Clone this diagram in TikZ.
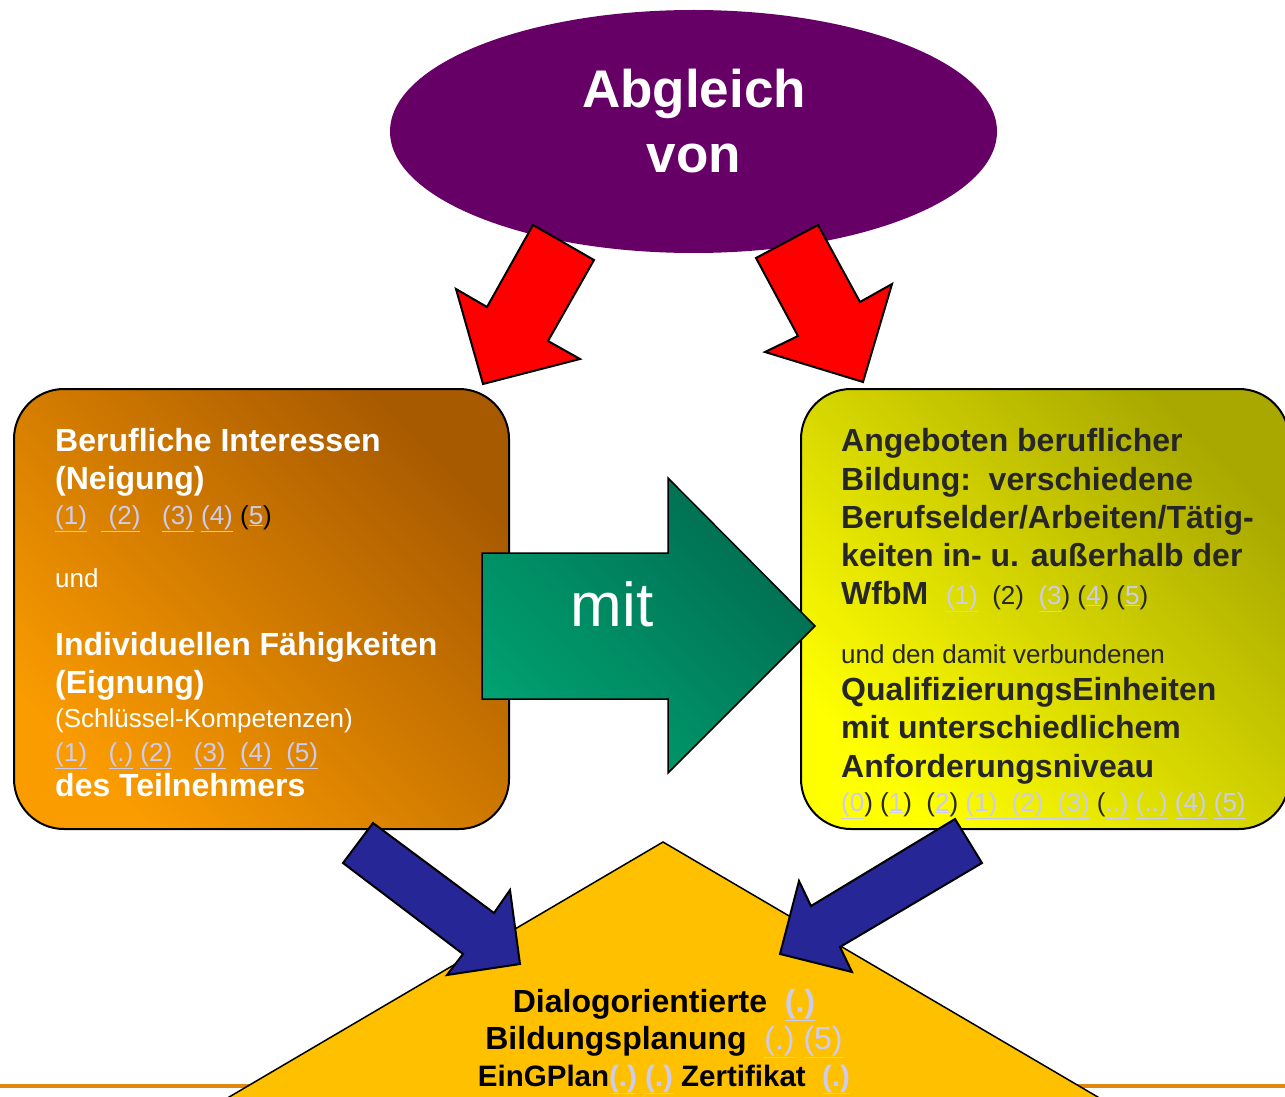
\documentclass[tikz,border=0pt]{standalone}
\usepackage{fontspec}
\setmainfont{Liberation Sans}
\usepackage{xcolor}
\usepackage{tikz}
\usetikzlibrary{shapes.geometric}
\definecolor{abgleichviolett}{RGB}{102,0,102}
\definecolor{pfeilrot}{RGB}{255,0,0}
\definecolor{pfeilblau}{RGB}{38,38,150}
\definecolor{gruenhell}{RGB}{0,160,112}
\definecolor{gruendunkel}{RGB}{0,108,80}
\definecolor{orangehell}{RGB}{250,155,0}
\definecolor{orangedunkel}{RGB}{168,90,0}
\definecolor{gelbhell}{RGB}{255,255,0}
\definecolor{gelbdunkel}{RGB}{168,168,0}
\definecolor{planamber}{RGB}{255,192,0}
\definecolor{linienorange}{RGB}{224,136,16}
\definecolor{linkfarbe}{RGB}{204,204,240}
\definecolor{textgrau}{RGB}{38,38,38}
\tikzstyle{kasten}=[draw=black,line width=2pt,rounded corners=50pt,inner sep=0pt,anchor=north west]
\tikzstyle{orangeverlauf}=[top color=orangedunkel,bottom color=orangehell,shading angle=-45]
\tikzstyle{gelbverlauf}=[top color=gelbdunkel,bottom color=gelbhell,shading angle=-45]
\tikzstyle{gruenverlauf}=[top color=gruendunkel,bottom color=gruenhell,shading angle=-45]
\tikzstyle{rotpfeil}=[draw=black,line width=2pt,fill=pfeilrot]
\tikzstyle{blaupfeil}=[draw=black,line width=2pt,fill=pfeilblau]
\tikzstyle{zeile}=[anchor=base west,inner sep=0pt]
\tikzstyle{weisszeile}=[zeile,text=white]
\tikzstyle{grauzeile}=[zeile,text=textgrau]
\tikzstyle{mittig}=[anchor=base,inner sep=0pt]
\newcommand\gross{\fontsize{32}{38}\selectfont\bfseries}
\newcommand\klein{\fontsize{26}{30}\selectfont}
\newcommand\verweis[1]{{\color{linkfarbe}\underline{#1}}}

\begin{document}
\begin{tikzpicture}[x=1pt,y=-1pt]
	\useasboundingbox (0,0) rectangle (1285,1097);
	\clip (0,0) rectangle (1285,1097);
	\draw[linienorange,line width=4pt] (0,1086) -- (1285,1086);
	\draw[fill=planamber,line width=1.5pt] (663,842) -- (1137,1120) -- (190,1120) -- cycle;
	\node[kasten,orangeverlauf,minimum width=495pt,minimum height=440pt] (neigung) at (13,388) {};
	\node[kasten,gelbverlauf,minimum width=488pt,minimum height=440pt] (angebot) at (800,388) {};
	\node[ellipse,fill=abgleichviolett,minimum width=607pt,minimum height=243pt,inner sep=0pt] (oval) at (693.5,131.5) {};
	\draw[rotpfeil] (533,225) -- (594,260) -- (548,341) -- (580,359) -- (483,384) -- (456,289) -- (487,307) -- cycle;
	\draw[rotpfeil] (756,258) -- (818,225) -- (860,302) -- (892,284) -- (863,382) -- (765,352) -- (798,336) -- cycle;
	\path[draw=black,line width=1.5pt,gruenverlauf] (482,553) -- (668,553) -- (668,478) -- (815,626) -- (668,773) -- (668,699) -- (482,699) -- cycle;
	\draw[blaupfeil] (373,823) -- (494,913) -- (510,890) -- (520,964) -- (447,975) -- (463,954) -- (343,863) -- cycle;
	\draw[blaupfeil] (955,819) -- (982,863) -- (840,947) -- (852,972) -- (780,954) -- (799,881) -- (811,906) -- cycle;
	\node[mittig,text=white,font=\fontsize{53}{64}\selectfont\bfseries] (abgleich) at (694,108) {Abgleich};
	\node[mittig,text=white,font=\fontsize{53}{64}\selectfont\bfseries] (von) at (694,172) {von};
	\node[mittig,text=white,font=\fontsize{62}{70}\selectfont] (mit) at (612,626) {mit};
	\node[weisszeile,font=\gross] (beruf) at (55,451) {Berufliche Interessen};
	\node[weisszeile,font=\gross] (neig) at (55,489) {(Neigung)};
	\node[weisszeile,font=\klein] (neiglinks) at (55,524) {\verweis{(1)}\ \ \verweis{\ (2)}\ \ \ \verweis{(3)} \verweis{(4)} {\color{black}(}\verweis{5}{\color{black})}};
	\node[weisszeile,font=\klein] (und) at (55,587) {und};
	\node[weisszeile,font=\gross] (indiv) at (55,655) {Individuellen Fähigkeiten};
	\node[weisszeile,font=\gross] (eign) at (55,693) {(Eignung)};
	\node[weisszeile,font=\klein] (schluessel) at (55,727) {(Schlüssel-Kompetenzen)};
	\node[weisszeile,font=\klein] (eignlinks) at (55,761) {\verweis{(1)}\ \ \ \verweis{(.)} \verweis{(2)}\ \ \ \verweis{(3)}\ \ \verweis{(4)}\ \ \verweis{(5)}};
	\node[weisszeile,font=\gross] (teiln) at (55,796) {des Teilnehmers};
	\node[grauzeile,font=\gross] (ang1) at (841,451) {Angeboten beruflicher};
	\node[grauzeile,font=\gross] (ang2) at (841,490) {Bildung:\ \ verschiedene};
	\node[grauzeile,font=\gross] (ang3) at (841,528) {Berufselder/Arbeiten/Tätig-};
	\node[grauzeile,font=\gross] (ang4) at (841,566) {keiten in- u. außerhalb der};
	\node[grauzeile,font=\gross] (wfbm) at (841,604) {WfbM\ \ {\klein\mdseries\verweis{(1)}\ \ (2)\ \ \verweis{(3}) (\verweis{4}) (\verweis{5})}};
	\node[grauzeile,font=\klein] (verbunden) at (841,663) {und den damit verbundenen};
	\node[grauzeile,font=\gross] (qe1) at (841,700) {QualifizierungsEinheiten};
	\node[grauzeile,font=\gross] (qe2) at (841,738) {mit unterschiedlichem};
	\node[grauzeile,font=\gross] (qe3) at (841,777) {Anforderungsniveau};
	\node[grauzeile,font=\klein] (qelinks) at (841,811) {\verweis{(0}) (\verweis{1})\ \ (\verweis{2}) \verweis{(1)\ \ (2)\ \ (3)} (\verweis{..)} \verweis{(..)} \verweis{(4)} \verweis{(5)}};
	\node[mittig,font=\gross] (dialog) at (664,1012) {Dialogorientierte\ \ \verweis{(.)}};
	\node[mittig,font=\gross] (planung) at (664,1049) {Bildungsplanung\ \ {\mdseries\verweis{(.)} \verweis{(5)}}};
	\node[mittig,font=\fontsize{29.5}{36}\selectfont\bfseries] (eingplan) at (664,1086) {EinGPlan\verweis{(.)} \verweis{(.)} Zertifikat\ \ \verweis{(.)}};
\end{tikzpicture}
\end{document}
